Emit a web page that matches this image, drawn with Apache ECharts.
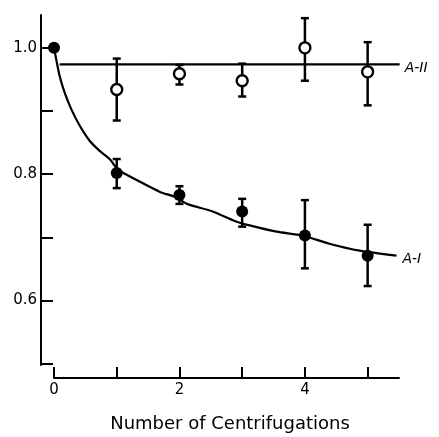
<!DOCTYPE html>
<html>
<head>
<meta charset="utf-8">
<script src="https://cdn.jsdelivr.net/npm/echarts@6/dist/echarts.min.js"></script>
<style>html,body{margin:0;padding:0;background:#fff}#c{width:439px;height:437px}</style>
</head>
<body>
<div id="c"></div>
<script>
// Data
var xs = [0, 1, 2, 3, 4, 5];
var aiMean = [1.0, 0.802, 0.767, 0.741, 0.703, 0.671];
var aiLow  = [null, 0.778, 0.753, 0.717, 0.651, 0.623];
var aiHigh = [null, 0.824, 0.781, 0.761, 0.759, 0.720];
var aiiX    = [1, 2, 3, 4, 5];
var aiiMean = [0.934, 0.959, 0.948, 1.0, 0.962];
var aiiLow  = [0.885, 0.942, 0.923, 0.948, 0.909];
var aiiHigh = [0.983, 0.973, 0.975, 1.047, 1.009];
// fitted curve A-I
var curveX = [0, 0.037, 0.091, 0.170, 0.275, 0.409, 0.568, 0.728, 0.887, 1.0, 1.05, 1.37, 1.69, 1.93, 2.12, 2.53, 2.88, 3.12, 3.55, 3.96, 4.39, 4.87, 5.46];
var curveY = [1.0, 0.981, 0.955, 0.929, 0.903, 0.877, 0.853, 0.837, 0.824, 0.809, 0.805, 0.788, 0.772, 0.764, 0.753, 0.741, 0.726, 0.719, 0.709, 0.703, 0.690, 0.679, 0.671];
// level line A-II
var lineX = [0.09, 5.51];
var lineY = [0.974, 0.974];
var xTicks = [0, 1, 2, 3, 4, 5];
var xLabels = [0, 2, 4];
var yTicks = [0.5, 0.6, 0.7, 0.8, 0.9, 1.0];
var yLabels = [0.6, 0.8, 1.0];

var ink = '#000';
function pairs(a, b) { return a.map(function (v, i) { return [v, b[i]]; }); }

var errA = [];
xs.forEach(function (x, i) { if (aiLow[i] != null) errA.push([x, aiLow[i], aiHigh[i]]); });
var errB = aiiX.map(function (x, i) { return [x, aiiLow[i], aiiHigh[i]]; });

function errRender(params, api) {
  var x = api.value(0);
  var lo = api.coord([x, api.value(1)]);
  var hi = api.coord([x, api.value(2)]);
  var w = 4;
  var st = { stroke: ink, lineWidth: 2.5 };
  return {
    type: 'group',
    children: [
      { type: 'line', shape: { x1: lo[0], y1: lo[1], x2: hi[0], y2: hi[1] }, style: st },
      { type: 'line', shape: { x1: lo[0] - w, y1: lo[1], x2: lo[0] + w, y2: lo[1] }, style: st },
      { type: 'line', shape: { x1: hi[0] - w, y1: hi[1], x2: hi[0] + w, y2: hi[1] }, style: st }
    ]
  };
}

var chart = echarts.init(document.getElementById('c'));
chart.setOption({
  backgroundColor: '#fff',
  animation: false,
  grid: { left: 54, right: 40, top: 15, bottom: 72, containLabel: false, outerBoundsMode: 'none' },
  xAxis: {
    type: 'value', min: 0, max: 5.5, offset: 13,
    axisLine: { onZero: false, lineStyle: { color: ink, width: 2 } },
    axisTick: { inside: true, length: 11, lineStyle: { color: ink, width: 2 }, customValues: xTicks },
    axisLabel: { customValues: xLabels, color: ink, fontFamily: 'DejaVu Sans', fontSize: 15, margin: 5 },
    splitLine: { show: false },
    name: 'Number of Centrifugations', nameLocation: 'middle', nameGap: 37,
    nameTextStyle: { color: ink, fontFamily: 'DejaVu Sans', fontSize: 18, padding: [0, 0, 0, 7] }
  },
  yAxis: {
    type: 'value', min: 0.498, max: 1.052, offset: 13,
    axisLine: { onZero: false, lineStyle: { color: ink, width: 2 } },
    axisTick: { inside: true, length: 12, lineStyle: { color: ink, width: 2 }, customValues: yTicks },
    axisLabel: { customValues: yLabels, color: ink, fontFamily: 'DejaVu Sans', fontSize: 15, margin: 4,
      formatter: function (v) { return v.toFixed(1); } },
    splitLine: { show: false }
  },
  series: [
    { type: 'custom', renderItem: errRender, data: errA, clip: false, z: 1, silent: true },
    { type: 'custom', renderItem: errRender, data: errB, clip: false, z: 1, silent: true },
    { type: 'line', data: pairs(curveX, curveY), smooth: 0.25, showSymbol: false, clip: false, z: 2,
      lineStyle: { color: ink, width: 2.2 },
      endLabel: { show: true, formatter: 'A-I', color: ink, fontFamily: 'DejaVu Sans', fontStyle: 'italic', fontSize: 14, distance: 6, offset: [0, 4] } },
    { type: 'line', data: pairs(lineX, lineY), showSymbol: false, clip: false, z: 2,
      lineStyle: { color: ink, width: 2.2 },
      endLabel: { show: true, formatter: 'A-II', color: ink, fontFamily: 'DejaVu Sans', fontStyle: 'italic', fontSize: 14, distance: 5, offset: [0, 4] } },
    { type: 'scatter', data: pairs(xs, aiMean), symbol: 'circle', symbolSize: 12, clip: false, z: 5,
      itemStyle: { color: ink, opacity: 1 } },
    { type: 'scatter', data: pairs(aiiX, aiiMean), symbol: 'circle', symbolSize: 11, clip: false, z: 5,
      itemStyle: { color: '#fff', borderColor: ink, borderWidth: 2.4, opacity: 1 } }
  ]
});
</script>
</body>
</html>
